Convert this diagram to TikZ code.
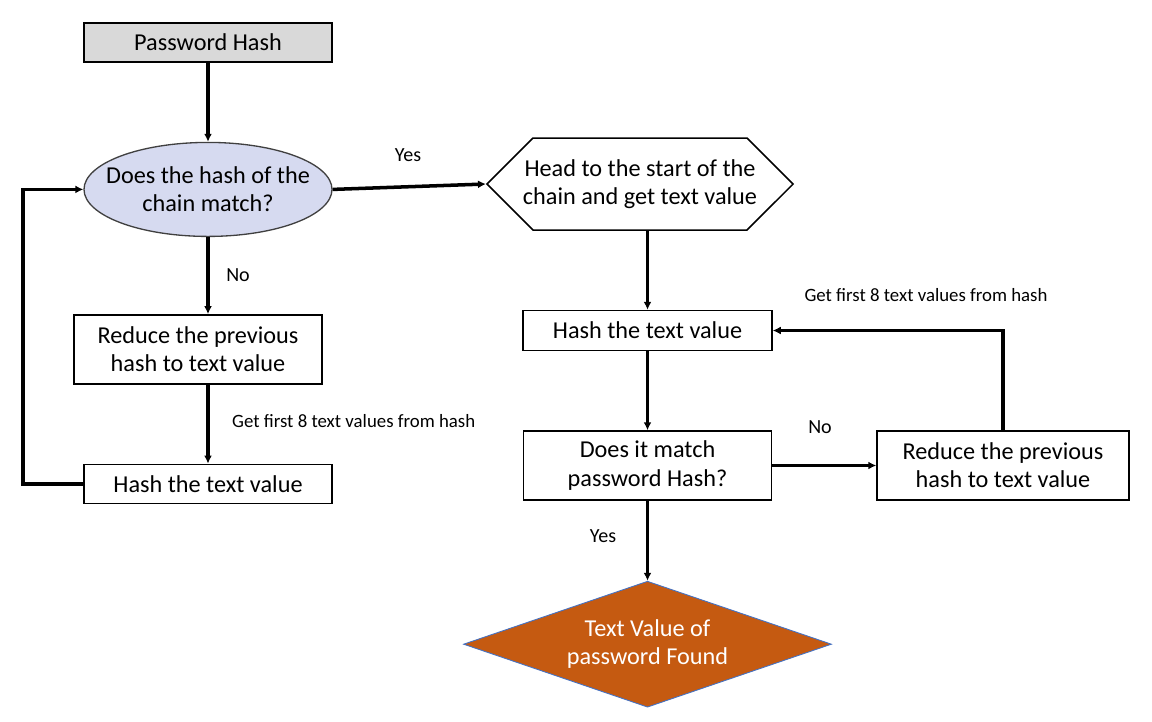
\documentclass[tikz,border=0pt]{standalone}
\usepackage{fontspec}
\setmainfont{Carlito}
\usetikzlibrary{arrows.meta,positioning,shapes.geometric,shapes.symbols}
\definecolor{hashgray}{RGB}{217,217,217}
\definecolor{matchlav}{RGB}{214,218,240}
\definecolor{foundrust}{RGB}{197,90,17}
\definecolor{foundedge}{RGB}{68,114,196}

\begin{document}
\begin{tikzpicture}[
    every node/.style={font=\fontsize{13.8}{16}\selectfont},
    box/.style={draw, line width=0.85pt, align=center, minimum width=4.96cm, inner sep=0pt},
    matchell/.style={draw=black!75, line width=0.75pt, ellipse, fill=matchlav, align=center, minimum width=4.96cm, minimum height=1.88cm, inner xsep=-0.3cm, inner ysep=0pt},
    headhex/.style={draw, line width=0.85pt, signal, signal to=west and east, signal pointer angle=90, align=center, minimum width=6.12cm, minimum height=1.84cm, inner xsep=-0.2cm, inner ysep=0pt},
    found/.style={draw=foundedge, line width=0.5pt, diamond, aspect=2.92, fill=foundrust, text=white, align=center, minimum width=7.36cm, minimum height=2.52cm, inner sep=0pt},
    lbl/.style={font=\fontsize{11.4}{13}\selectfont},
    smalllbl/.style={font=\fontsize{10.7}{13}\selectfont},
    flow/.style={-{Latex[length=1.6mm,width=1.6mm]}, line width=2pt}
]
\useasboundingbox (0,0) rectangle (23.04,-14.42);
% left column
\node[box, fill=hashgray, minimum height=0.78cm] (pwhash) at (4.16,-0.85) {Password Hash};
\node[matchell, below=1.58cm of pwhash] (chainmatch) {Does the hash of the\\chain match?};
\node[box, minimum height=1.38cm, below=1.54cm of chainmatch, xshift=-0.2cm] (reduceL) {Reduce the previous\\hash to text value};
\node[box, minimum height=0.78cm, below=1.58cm of reduceL, xshift=0.2cm] (hashL) {Hash the text value};
% right column
\node[headhex] (headstart) at (12.8,-3.68) {Head to the start of the\\chain and get text value};
\node[box, minimum width=4.98cm, minimum height=0.8cm, below=1.58cm of headstart, xshift=0.15cm] (hashR) {Hash the text value};
\node[box, minimum height=1.38cm, below=1.58cm of hashR] (pwmatch) {Does it match\\password Hash?};
\node[box, minimum width=5.04cm, minimum height=1.38cm, right=2.08cm of pwmatch] (reduceR) {Reduce the previous\\hash to text value};
\node[found, below=1.6cm of pwmatch] (textfound) {Text Value of\\password Found};
% labels
\node[lbl] (yesA) at (8.16,-3.1) {Yes};
\node[lbl] (noA) at (4.76,-5.5) {No};
\node[smalllbl, anchor=west] (getA) at (4.52,-8.42) {Get first 8 text values from hash};
\node[smalllbl] (getB) at (18.52,-5.9) {Get first 8 text values from hash};
\node[lbl] (noB) at (16.4,-8.54) {No};
\node[lbl] (yesB) at (12.06,-10.72) {Yes};
% connectors
\draw[flow] (pwhash) -- (chainmatch);
\draw[flow] (chainmatch.east) -- (headstart.west);
\draw[flow] (chainmatch.south) -- (chainmatch.south |- reduceL.north);
\draw[flow] (hashL.north |- reduceL.south) -- (hashL.north);
\draw[flow] (hashL.west) -- ++(-1.2,0) |- (chainmatch.west);
\draw[flow] (hashR.north |- headstart.south) -- (hashR.north);
\draw[flow] (hashR) -- (pwmatch);
\draw[flow] (pwmatch) -- (reduceR);
\draw[flow] (reduceR.north) |- (hashR.east);
\draw[flow] (pwmatch) -- (textfound);
\end{tikzpicture}
\end{document}
